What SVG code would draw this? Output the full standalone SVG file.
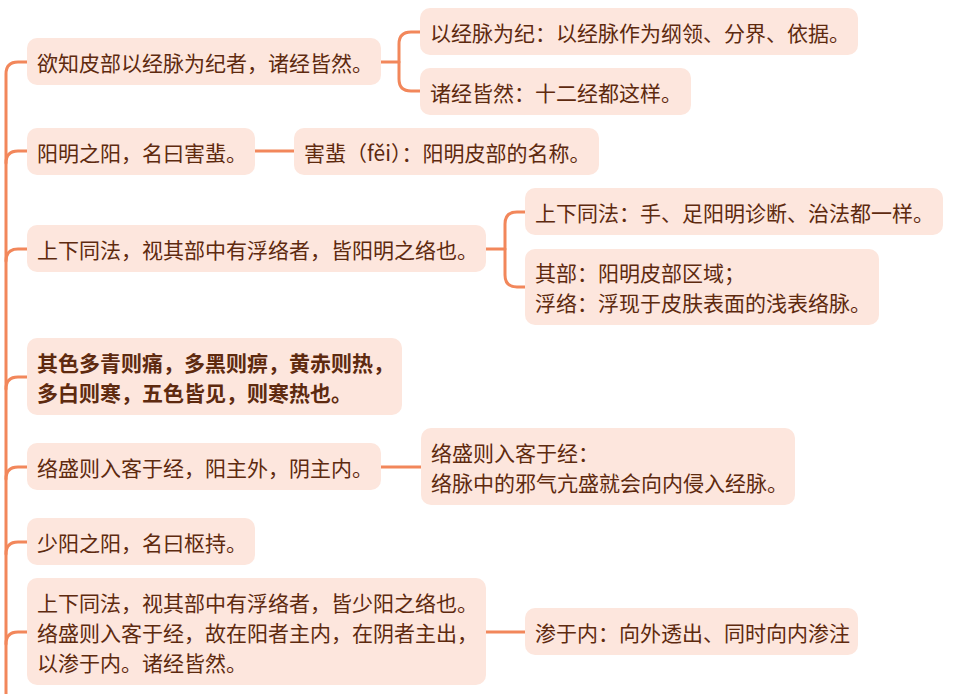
<svg xmlns="http://www.w3.org/2000/svg" width="961" height="694" viewBox="0 0 961 694">
<style>
.n{fill:#FDE6DD;}
.t{font-family:"Noto Sans CJK SC","Noto Sans",sans-serif;font-size:21px;fill:#5E2A0F;dominant-baseline:central;}
.b{font-weight:bold;}
.c{fill:none;stroke:#F2875B;stroke-width:3;stroke-linecap:round;stroke-linejoin:round;}
</style>
<rect width="961" height="694" fill="#FFFFFF"/>
<g id="connectors">
<path class="c" d="M6,700 L6,74 Q6,62 18,62 L27,62"/>
<path class="c" d="M6,163 Q6,151 18,151 L27,151"/>
<path class="c" d="M6,261 Q6,249 18,249 L27,249"/>
<path class="c" d="M6,389 Q6,377 18,377 L27,377"/>
<path class="c" d="M6,479 Q6,467 18,467 L27,467"/>
<path class="c" d="M6,554 Q6,542 18,542 L27,542"/>
<path class="c" d="M6,644 Q6,632 18,632 L27,632"/>
<path class="c" d="M380,62 L399,62"/>
<path class="c" d="M420,32 L411,32 Q399,32 399,44 L399,79 Q399,91 411,91 L420,91"/>
<path class="c" d="M254,151 L294,151"/>
<path class="c" d="M486,249 L505,249"/>
<path class="c" d="M525,212 L517,212 Q505,212 505,224 L505,275 Q505,287 517,287 L525,287"/>
<path class="c" d="M381,467 L421,467"/>
<path class="c" d="M486,632 L525,632"/>
</g>
<g id="n1"><rect class="n" x="27" y="38" width="354" height="47" rx="10"/><text class="t" x="37" y="61.5">欲知皮部以经脉为纪者，诸经皆然。</text></g>
<g id="n1a"><rect class="n" x="420" y="8" width="438" height="47" rx="10"/><text class="t" x="430" y="31.5">以经脉为纪：以经脉作为纲领、分界、依据。</text></g>
<g id="n1b"><rect class="n" x="420" y="68" width="271" height="47" rx="10"/><text class="t" x="430" y="91.5">诸经皆然：十二经都这样。</text></g>
<g id="n2"><rect class="n" x="27" y="128" width="228" height="47" rx="10"/><text class="t" x="37" y="151.5">阳明之阳，名曰害蜚。</text></g>
<g id="n2a"><rect class="n" x="294" y="128" width="305" height="47" rx="10"/><text class="t" x="304" y="151.5">害蜚（fěi）：阳明皮部的名称。</text></g>
<g id="n3"><rect class="n" x="27" y="225" width="459" height="47" rx="10"/><text class="t" x="37" y="248.5">上下同法，视其部中有浮络者，皆阳明之络也。</text></g>
<g id="n3a"><rect class="n" x="525" y="188" width="418" height="47" rx="10"/><text class="t" x="535" y="211.5">上下同法：手、足阳明诊断、治法都一样。</text></g>
<g id="n3b"><rect class="n" x="525" y="249" width="354" height="76" rx="10"/><text class="t" x="535" y="272">其部：阳明皮部区域；</text><text class="t" x="535" y="302">浮络：浮现于皮肤表面的浅表络脉。</text></g>
<g id="n4"><rect class="n" x="27" y="338" width="375" height="77" rx="10"/><text class="t b" x="37" y="362">其色多青则痛，多黑则痹，黄赤则热，</text><text class="t b" x="37" y="392">多白则寒，五色皆见，则寒热也。</text></g>
<g id="n5"><rect class="n" x="27" y="443" width="354" height="47" rx="10"/><text class="t" x="37" y="466.5">络盛则入客于经，阳主外，阴主内。</text></g>
<g id="n5a"><rect class="n" x="421" y="428" width="374" height="77" rx="10"/><text class="t" x="431" y="452">络盛则入客于经：</text><text class="t" x="431" y="482">络脉中的邪气亢盛就会向内侵入经脉。</text></g>
<g id="n6"><rect class="n" x="27" y="518" width="228" height="47" rx="10"/><text class="t" x="37" y="541.5">少阳之阳，名曰枢持。</text></g>
<g id="n7"><rect class="n" x="27" y="578" width="459" height="107" rx="10"/><text class="t" x="37" y="602">上下同法，视其部中有浮络者，皆少阳之络也。</text><text class="t" x="37" y="632">络盛则入客于经，故在阳者主内，在阴者主出，</text><text class="t" x="37" y="662">以渗于内。诸经皆然。</text></g>
<g id="n7a"><rect class="n" x="525" y="608" width="333" height="47" rx="10"/><text class="t" x="535" y="631.5">渗于内：向外透出、同时向内渗注</text></g>
</svg>
